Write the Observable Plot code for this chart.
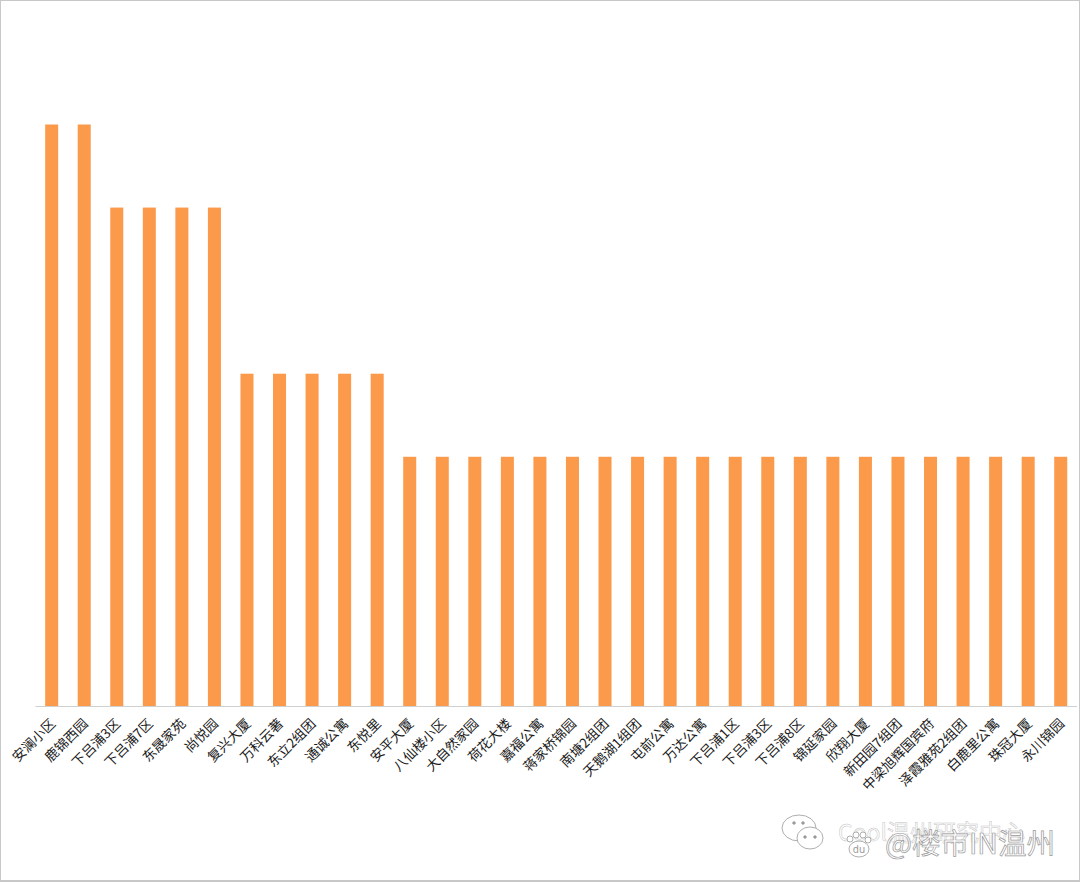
<!DOCTYPE html>
<html>
<head>
<meta charset="utf-8">
<script src="https://cdn.jsdelivr.net/npm/d3@7"></script>
<script src="https://cdn.jsdelivr.net/npm/@observablehq/plot@0.6"></script>
<style>
html,body{margin:0;padding:0;background:#fff;}
#wrap{position:relative;width:1080px;height:882px;overflow:hidden;}
#wrap svg.chart{display:block;}
#border{position:absolute;left:0;top:0;width:1080px;height:882px;box-sizing:border-box;border:1px solid #c8c8c8;border-width:1px 1px 2px 1px;pointer-events:none;}
.wm{position:absolute;white-space:nowrap;font-family:"Noto Sans CJK SC","Noto Sans",sans-serif;color:#fff;}
.icon{position:absolute;left:778px;top:810px;}
</style>
</head>
<body>
<div id="wrap"></div>
<script>
const names = ["安澜小区","鹿锦西园","下吕浦3区","下吕浦7区","东晟家苑","尚悦园","复兴大厦","万科云著","东立2组团","通诚公寓","东悦里","安平大厦","八仙楼小区","大自然家园","荷花大楼","嘉福公寓","蒋家桥锦园","南塘2组团","天鹅湖1组团","屯前公寓","万达公寓","下吕浦1区","下吕浦3区","下吕浦8区","锦延家园","欣翔大厦","新田园7组团","中梁旭辉国宾府","泽霞雅苑2组团","白鹿里公寓","珠冠大厦","永川锦园"];
const values = [7,7,6,6,6,6,4,4,4,4,4,3,3,3,3,3,3,3,3,3,3,3,3,3,3,3,3,3,3,3,3,3];
const barColor = "#FB9A4B";
const rows = names.map((name,i)=>({i,name,value:values[i]}));

const chart = Plot.plot({
  width:1080,
  height:882,
  marginTop:124.5,
  marginBottom:176,
  marginLeft:35.4,
  marginRight:3,
  style:{background:"#fff",fontFamily:'"Noto Sans CJK SC","Noto Sans",sans-serif'},
  x:{type:"band",domain:names.map((_,i)=>i),paddingInner:0.6,paddingOuter:0.3,align:0.5,round:false},
  y:{domain:[0,7],axis:null},
  marks:[
    Plot.barY(rows,{x:"i",y:"value",fill:barColor}),
    Plot.ruleY([0],{stroke:"#d0d0d0",strokeWidth:1}),
    Plot.axisX({
      tickSize:0,
      tickRotate:-45,
      tickPadding:15,
      dx:1,
      fontSize:13.5,
      fill:"#1a1a1a",
      label:null,
      tickFormat:i=>names[i]
    })
  ]
});
chart.classList.add("chart");
const wrap=document.getElementById("wrap");
wrap.appendChild(chart);

const border=document.createElement("div");border.id="border";wrap.appendChild(border);

function wm(text,left,top,size,stroke){
  const d=document.createElement("div");d.className="wm";d.textContent=text;
  d.style.left=left+"px";d.style.top=top+"px";d.style.fontSize=size+"px";d.style.lineHeight="1";
  d.style.webkitTextStroke=stroke;
  wrap.appendChild(d);
}
wm("Cool温州研究中心",838,820,23,"0.5px #c4c4c4");
wrap.insertAdjacentHTML("beforeend",`<svg class="icon" width="100" height="52" viewBox="0 0 100 52" fill="#fff" stroke="#999" stroke-width="0.8">
<ellipse cx="21" cy="18" rx="17" ry="13"/><ellipse cx="32" cy="28" rx="13" ry="11"/>
<circle cx="16" cy="13" r="1.3" fill="#999"/><circle cx="25" cy="13" r="1.3" fill="#999"/>
<circle cx="27" cy="27" r="1.3" fill="#999"/><circle cx="37" cy="27" r="1.3" fill="#999"/>
<ellipse cx="81" cy="39" rx="10" ry="8"/><circle cx="72" cy="29" r="3"/><circle cx="78" cy="25" r="3"/><circle cx="85" cy="25" r="3"/><circle cx="90" cy="30" r="3"/>
<text x="81" y="43" text-anchor="middle" font-size="10" font-family="Noto Sans" stroke="none" fill="#999">du</text>
</svg>`);
wm("@楼市IN温州",885,828,28.5,"0.7px #999");
</script>
</body>
</html>
